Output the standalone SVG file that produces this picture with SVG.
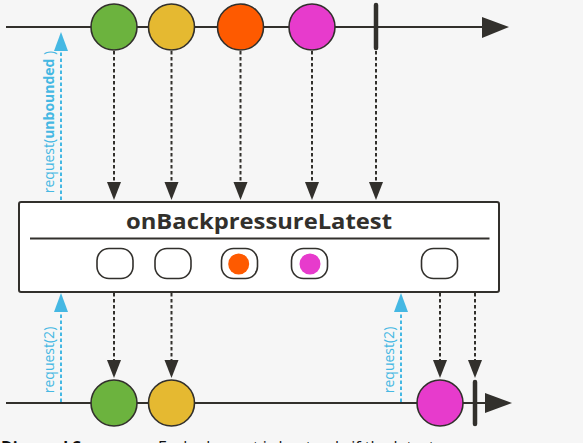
<svg xmlns="http://www.w3.org/2000/svg" width="583" height="443" viewBox="0 0 583 443">
<defs>
<style>
.bg{fill:#f6f6f6}
.axis{stroke:#32302c;stroke-width:2.2;fill:none}
.term{stroke:#32302c;stroke-width:4.5;stroke-linecap:round}
.marble{stroke:#32302c;stroke-width:1.6}
.flow{stroke:#32302c;stroke-width:2;stroke-dasharray:3.5 2.5;fill:none}
.req{stroke:#45b8e3;stroke-width:2;stroke-dasharray:3.5 2.5;fill:none}
.ah{fill:#32302c}
.bh{fill:#45b8e3}
.box{fill:#ffffff;stroke:#32302c;stroke-width:2}
.slot{fill:#ffffff;stroke:#32302c;stroke-width:1.6}
.title{font-family:"Open Sans","DejaVu Sans",sans-serif;font-weight:bold;font-size:21px;fill:#32302c}
.lbl{font-family:"Open Sans","DejaVu Sans",sans-serif;font-size:14px;fill:#45b8e3}
.cap{font-family:"Open Sans","DejaVu Sans",sans-serif;font-size:16px;fill:#111111}
</style>
</defs>
<rect class="bg" x="0" y="0" width="583" height="443"/>

<g id="timeline-top">
<line class="axis" x1="6" y1="27" x2="484" y2="27"/>
<polygon class="ah" points="482,17 509,27 482,38"/>
</g>
<g id="timeline-bottom">
<line class="axis" x1="6" y1="403" x2="487" y2="403"/>
<polygon class="ah" points="485,393 512,403 485,413"/>
</g>

<g id="connectors">
<line class="flow" x1="114" y1="51" x2="114" y2="184"/>
<polygon class="ah" points="107,182 121,182 114,200"/>
<line class="flow" x1="171.5" y1="51" x2="171.5" y2="184"/>
<polygon class="ah" points="164.5,182 178.5,182 171.5,200"/>
<line class="flow" x1="240.5" y1="51" x2="240.5" y2="184"/>
<polygon class="ah" points="233.5,182 247.5,182 240.5,200"/>
<line class="flow" x1="312" y1="51" x2="312" y2="184"/>
<polygon class="ah" points="305,182 319,182 312,200"/>
<line class="flow" x1="376" y1="51" x2="376" y2="184"/>
<polygon class="ah" points="369,182 383,182 376,200"/>

<line class="flow" x1="114" y1="293" x2="114" y2="362"/>
<polygon class="ah" points="107,360 121,360 114,378"/>
<line class="flow" x1="171.5" y1="293" x2="171.5" y2="362"/>
<polygon class="ah" points="164.5,360 178.5,360 171.5,378"/>
<line class="flow" x1="440" y1="293" x2="440" y2="362"/>
<polygon class="ah" points="433,360 447,360 440,378"/>
<line class="flow" x1="475" y1="293" x2="475" y2="362"/>
<polygon class="ah" points="468,360 482,360 475,378"/>

<line class="req" x1="61" y1="200" x2="61" y2="50"/>
<polygon class="bh" points="54,51 68,51 61,32"/>
<line class="req" x1="61" y1="402" x2="61" y2="312"/>
<polygon class="bh" points="54,312 68,312 61,293"/>
<line class="req" x1="401" y1="402" x2="401" y2="312"/>
<polygon class="bh" points="394,312 408,312 401,293"/>
</g>

<g id="label-unbounded">
<text class="lbl" transform="translate(53.5,122) rotate(-90)" text-anchor="middle">request(<tspan font-weight="bold">unbounded</tspan> )</text>
</g>
<g id="label-request-1">
<text class="lbl" transform="translate(53.5,360) rotate(-90)" text-anchor="middle">request(2)</text>
</g>
<g id="label-request-2">
<text class="lbl" transform="translate(393.5,360) rotate(-90)" text-anchor="middle">request(2)</text>
</g>

<g id="src-green"><circle class="marble" cx="114" cy="27" r="23" fill="#6cb33e"/></g>
<g id="src-yellow"><circle class="marble" cx="171.5" cy="27" r="23" fill="#e5b931"/></g>
<g id="src-orange"><circle class="marble" cx="240.5" cy="27" r="23" fill="#fe5a00"/></g>
<g id="src-magenta"><circle class="marble" cx="312" cy="27" r="23" fill="#e73bcc"/></g>
<g id="src-complete"><line class="term" x1="376" y1="5" x2="376" y2="48"/></g>

<g id="operator">
<rect class="box" x="19" y="202" width="480" height="90" rx="2"/>
<text class="title" x="259" y="229" text-anchor="middle" textLength="266" lengthAdjust="spacingAndGlyphs">onBackpressureLatest</text>
<line x1="30" y1="238.5" x2="489.5" y2="238.5" stroke="#32302c" stroke-width="2"/>
<rect class="slot" x="97" y="248.5" width="36" height="30" rx="12"/>
<rect class="slot" x="155" y="248.5" width="36" height="30" rx="12"/>
<rect class="slot" x="221.5" y="248.5" width="36" height="30" rx="12"/>
<circle cx="238.7" cy="264" r="10.5" fill="#fe5a00"/>
<rect class="slot" x="291.5" y="248.5" width="36" height="30" rx="12"/>
<circle cx="310" cy="264" r="10.5" fill="#e73bcc"/>
<rect class="slot" x="421.5" y="248.5" width="36" height="30" rx="12"/>
</g>

<g id="out-green"><circle class="marble" cx="114" cy="403" r="23" fill="#6cb33e"/></g>
<g id="out-yellow"><circle class="marble" cx="171.5" cy="403" r="23" fill="#e5b931"/></g>
<g id="out-magenta"><circle class="marble" cx="440" cy="403" r="23" fill="#e73bcc"/></g>
<g id="out-complete"><line class="term" x1="475" y1="382" x2="475" y2="424"/></g>

<g id="caption">
<text class="cap" x="1" y="453"><tspan font-weight="bold">Disposal Summary:</tspan> Each element is kept only if the latest one</text>
</g>
</svg>
